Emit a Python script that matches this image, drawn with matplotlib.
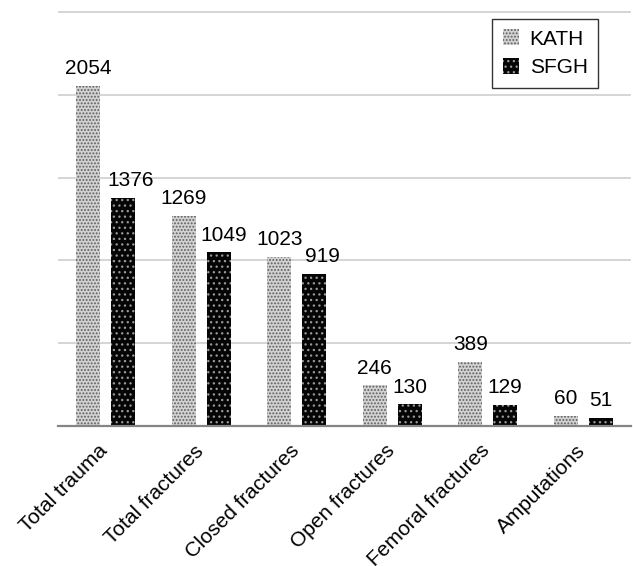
import matplotlib
matplotlib.use("Agg")
import matplotlib.pyplot as plt
from matplotlib.patches import Patch
from matplotlib.transforms import ScaledTranslation
import numpy as np

plt.rcParams['font.family'] = ['Liberation Sans', 'DejaVu Sans']
plt.rcParams['hatch.linewidth'] = 0.9

categories = ["Total trauma", "Total fractures", "Closed fractures",
              "Open fractures", "Femoral fractures", "Amputations"]
kath = [2054, 1269, 1023, 246, 389, 60]
sfgh = [1376, 1049, 919, 130, 129, 51]
series_names = ["KATH", "SFGH"]

# horizontal nudges (pixels) for the SFGH value labels
sfgh_label_nudge = [7, 5, 8, 0, 0, 0]

W, H = 633, 566
fig = plt.figure(figsize=(W / 100, H / 100), dpi=100)

y_top = 2520
ax_left, ax_right = 58, 631
ax_bottom_px = 426
ax_top_px = 12 - (y_top - 2500) * (426 - 12) / 2500
ax = fig.add_axes([ax_left / W, 1 - ax_bottom_px / H,
                   (ax_right - ax_left) / W, (ax_bottom_px - ax_top_px) / H])

x = np.arange(len(categories))
off, bw = 0.183, 0.25

kath_style = dict(facecolor='#d2d2d2', edgecolor='#5e5e5e', hatch='.....', linewidth=0)
sfgh_style = dict(facecolor='#050505', edgecolor='#9a9a9a', hatch='...', linewidth=0)

ax.bar(x - off, kath, bw, zorder=3, **kath_style)
ax.bar(x + off, sfgh, bw, zorder=3, **sfgh_style)

px = 72 / 100  # points per pixel
for xi, v in zip(x - off, kath):
    ax.annotate(str(v), (xi, v), xytext=(0, 5.5), textcoords='offset points',
                ha='center', va='bottom', fontsize=15)
for xi, v, dx in zip(x + off, sfgh, sfgh_label_nudge):
    ax.annotate(str(v), (xi, v), xytext=(dx * px, 5.5), textcoords='offset points',
                ha='center', va='bottom', fontsize=15)

ax.set_xlim(-0.5, 5.5)
ax.set_ylim(0, y_top)
ax.set_yticks(np.arange(0, 2501, 500))
ax.set_yticklabels([])
ax.tick_params(axis='y', length=0)
ax.yaxis.grid(True, color='#d2d2d2', linewidth=1.3, zorder=0)
ax.set_axisbelow(True)

for s in ['top', 'right', 'left']:
    ax.spines[s].set_visible(False)
ax.spines['bottom'].set_color('#858585')
ax.spines['bottom'].set_linewidth(1.6)
ax.spines['bottom'].set_zorder(4)

ax.set_xticks(x)
ax.set_xticklabels(categories, rotation=45, ha='right', va='top',
                   rotation_mode='anchor', fontsize=15)
ax.tick_params(axis='x', length=0, pad=11)
shift = ScaledTranslation(-0.075, 0, fig.dpi_scale_trans)
for lab in ax.get_xticklabels():
    lab.set_transform(lab.get_transform() + shift)

handles = [Patch(**kath_style, label=series_names[0]),
           Patch(**sfgh_style, label=series_names[1])]
leg = ax.legend(handles=handles, loc='upper right',
                bbox_to_anchor=(598 / W, 1 - 19 / H), bbox_transform=fig.transFigure,
                fontsize=15, frameon=True, fancybox=False, borderaxespad=0,
                handlelength=0.8, handleheight=0.8, handletextpad=0.5,
                labelspacing=0.45, borderpad=0.5)
leg.get_frame().set_edgecolor('black')
leg.get_frame().set_linewidth(1.0)

fig.savefig("out.png", dpi=100)
